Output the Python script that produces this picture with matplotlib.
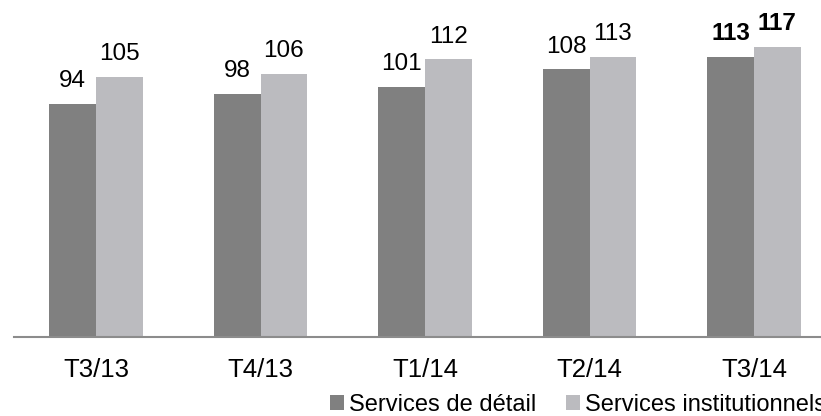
import matplotlib
matplotlib.use('Agg')
import matplotlib.pyplot as plt
import numpy as np

plt.rcParams['font.family'] = ['Liberation Sans', 'DejaVu Sans']

# 数据
periodes = ['T3/13', 'T4/13', 'T1/14', 'T2/14', 'T3/14']
detail = [94, 98, 101, 108, 113]
institutionnels = [105, 106, 112, 113, 117]
series_noms = ['Services de détail', 'Services institutionnels']

couleur_fonce = '#808080'
couleur_clair = '#bbbbbf'

fig = plt.figure(figsize=(8.21, 4.16), dpi=100)
ax = fig.add_axes([14 / 821, 79 / 416, 807 / 821, 337 / 416])

x = np.arange(len(periodes))
w = 0.283
b1 = ax.bar(x - w / 2, detail, width=w, color=couleur_fonce, label=series_noms[0])
b2 = ax.bar(x + w / 2, institutionnels, width=w, color=couleur_clair, label=series_noms[1])

# 数值标签, 最后一组加粗
n = len(periodes)
for i in range(n):
    fw = 'bold' if i == n - 1 else 'normal'
    ax.annotate(str(detail[i]), (x[i] - w / 2, detail[i]), xytext=(0, 12),
                textcoords='offset points', ha='center', va='baseline',
                fontsize=17.5, fontweight=fw)
    ax.annotate(str(institutionnels[i]), (x[i] + w / 2, institutionnels[i]), xytext=(0, 12),
                textcoords='offset points', ha='center', va='baseline',
                fontsize=17.5, fontweight=fw)

ax.set_xlim(-0.4985, 4.407)
ax.set_ylim(0, 135.9)
ax.set_xticks(x)
ax.set_xticklabels(periodes, fontsize=18.5)
ax.tick_params(axis='x', length=0, pad=15)
ax.set_yticks([])
for s in ['top', 'right', 'left']:
    ax.spines[s].set_visible(False)
ax.spines['bottom'].set_color('#8c8c8c')
ax.spines['bottom'].set_linewidth(1.5)

# 图例 (右侧文字在参考图中也被截断)
fig.legend(handles=[b1, b2], loc='lower left', bbox_to_anchor=(330 / 821, 0.0),
           ncol=2, frameon=False, fontsize=17, handlelength=0.6, handleheight=0.6,
           handletextpad=0.2, columnspacing=1.25, borderaxespad=0, borderpad=0)

plt.savefig('out.png', dpi=100)
